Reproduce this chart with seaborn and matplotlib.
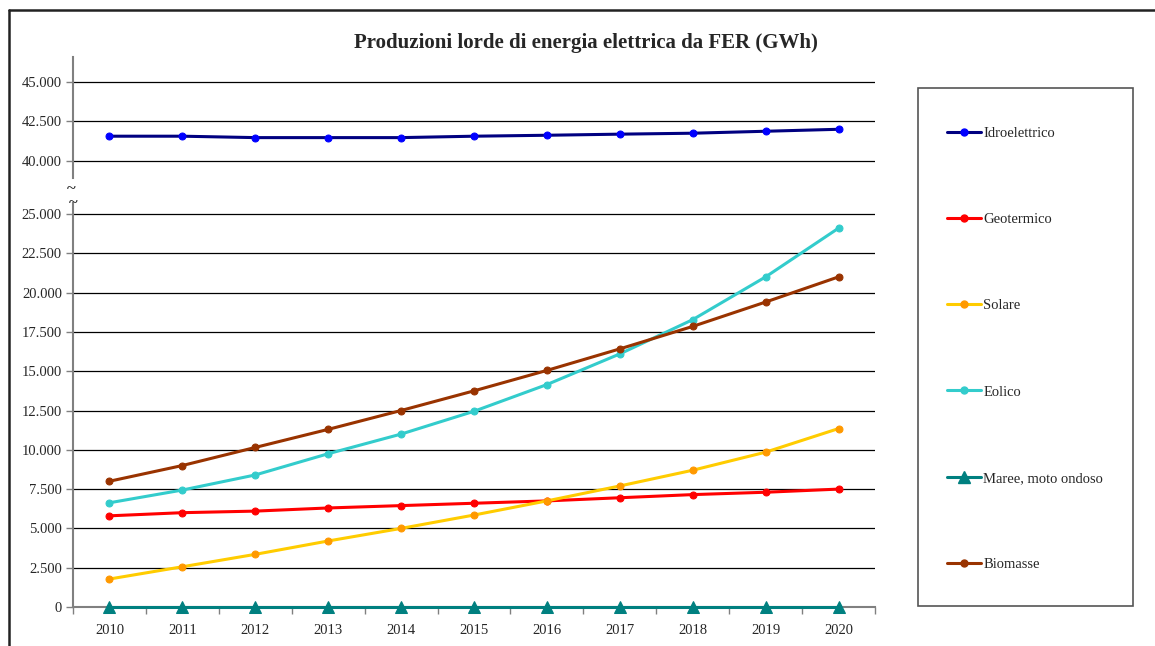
import numpy as np
import pandas as pd
import matplotlib
matplotlib.use("Agg")
import matplotlib.pyplot as plt
import seaborn as sns
from matplotlib.lines import Line2D
from matplotlib.patches import Rectangle
from matplotlib.ticker import FuncFormatter, MultipleLocator

# Data (GWh)
years = [2010, 2011, 2012, 2013, 2014, 2015, 2016, 2017, 2018, 2019, 2020]
idroelettrico = [41560, 41560, 41470, 41470, 41470, 41560, 41620, 41690, 41750, 41875, 42000]
geotermico = [5800, 6000, 6100, 6300, 6450, 6600, 6750, 6950, 7150, 7300, 7500]
solare = [1780, 2560, 3350, 4200, 5000, 5850, 6750, 7700, 8700, 9850, 11350]
eolico = [6630, 7440, 8400, 9750, 11000, 12450, 14150, 16100, 18280, 21000, 24100]
maree = [0, 0, 0, 0, 0, 0, 0, 0, 0, 0, 0]
biomasse = [8000, 9000, 10150, 11300, 12500, 13750, 15050, 16420, 17850, 19400, 21000]

# name, values, line colour, marker colour, marker, size, upper panel?
series = [
    ("Idroelettrico", idroelettrico, "#000080", "#0000FF", "o", 5, True),
    ("Geotermico", geotermico, "#FF0000", "#FF0000", "o", 5, False),
    ("Solare", solare, "#FFCC00", "#FF9900", "o", 5, False),
    ("Eolico", eolico, "#33CCCC", "#33CCCC", "o", 5, False),
    ("Maree, moto ondoso", maree, "#008080", "#008080", "^", 8, False),
    ("Biomasse", biomasse, "#993300", "#993300", "o", 5, False),
]

sns.set_style("white")
plt.rcParams['font.family'] = ['Liberation Serif', 'DejaVu Serif']

fig = plt.figure(figsize=(11.55, 6.46), dpi=100)
W, H = 1155, 646
ax_top = fig.add_axes([73 / W, 1 - 178 / H, 802 / W, 121 / H])
ax_bot = fig.add_axes([73 / W, 1 - 607 / H, 802 / W, 404 / H])

handles = []
for name, vals, lc, mc, mk, ms, upper in series:
    ax = ax_top if upper else ax_bot
    sns.lineplot(x=years, y=vals, ax=ax, color=lc, linewidth=2.2,
                 marker=mk, markersize=ms, markerfacecolor=mc,
                 markeredgecolor=mc, clip_on=False, zorder=5)
    handles.append(Line2D([], [], color=lc, linewidth=2.2, marker=mk,
                          markersize=ms, markerfacecolor=mc, markeredgecolor=mc))

fmt = FuncFormatter(lambda v, p: f"{int(v):,}".replace(",", "."))
grey = "#808080"
fs = 10.5

for ax in (ax_top, ax_bot):
    ax.set_xlim(2009.5, 2020.5)
    ax.yaxis.set_major_locator(MultipleLocator(2500))
    ax.yaxis.set_major_formatter(fmt)
    ax.yaxis.grid(True, color="black", linewidth=0.9)
    ax.set_axisbelow(True)
    for s in ("top", "right"):
        ax.spines[s].set_visible(False)
    ax.spines["left"].set_color(grey)
    ax.spines["left"].set_linewidth(1.5)
    ax.tick_params(axis="y", direction="out", length=5, color=grey, width=1,
                   labelsize=fs, pad=3, left=True)
    ax.set_xlabel("")
    ax.set_ylabel("")

ax_top.set_ylim(38900, 46600)
ax_top.set_yticks([40000, 42500, 45000])
ax_top.spines["bottom"].set_visible(False)
ax_top.set_xticks([])

ax_bot.set_ylim(0, 25700)
ax_bot.set_yticks(np.arange(0, 25001, 2500))
ax_bot.spines["bottom"].set_color(grey)
ax_bot.spines["bottom"].set_linewidth(1.5)
ax_bot.set_xticks(years)
ax_bot.set_xticks(np.arange(2009.5, 2021, 1), minor=True)
ax_bot.tick_params(axis="x", which="major", length=0, labelsize=fs, pad=12)
ax_bot.tick_params(axis="x", which="minor", direction="out", length=5,
                   color=grey, width=1, bottom=True)

# break marks on the y axis
ax_top.text(-0.002, -0.09, "~", transform=ax_top.transAxes, ha="center", va="center",
            fontsize=12, fontweight="bold", clip_on=False)
ax_bot.text(0, 1.0, "~", transform=ax_bot.transAxes, ha="center", va="center",
            fontsize=12, fontweight="bold", clip_on=False)

fig.text(586 / W, 1 - 43 / H, "Produzioni lorde di energia elettrica da FER (GWh)",
         ha="center", va="center", fontsize=15, fontweight="bold")

# legend box and entries
fig.add_artist(Rectangle((918 / W, 1 - 606 / H), 215 / W, 518 / H,
                         transform=fig.transFigure, fill=False,
                         edgecolor="#555555", linewidth=1.2))
fig.legend(handles, [s[0] for s in series], loc="upper left",
           bbox_to_anchor=(947 / W, 1 - 127 / H), frameon=False,
           fontsize=fs, labelspacing=5.0, handlelength=2.3,
           handletextpad=0.2, borderpad=0, borderaxespad=0)

# outer frame (top and left edges)
fig.add_artist(Line2D([9 / W, 1], [1 - 10 / H, 1 - 10 / H], color="#222222",
                      linewidth=1.8, transform=fig.transFigure))
fig.add_artist(Line2D([9 / W, 9 / W], [0, 1 - 10 / H], color="#222222",
                      linewidth=1.8, transform=fig.transFigure))

fig.savefig("out.png", dpi=100)
